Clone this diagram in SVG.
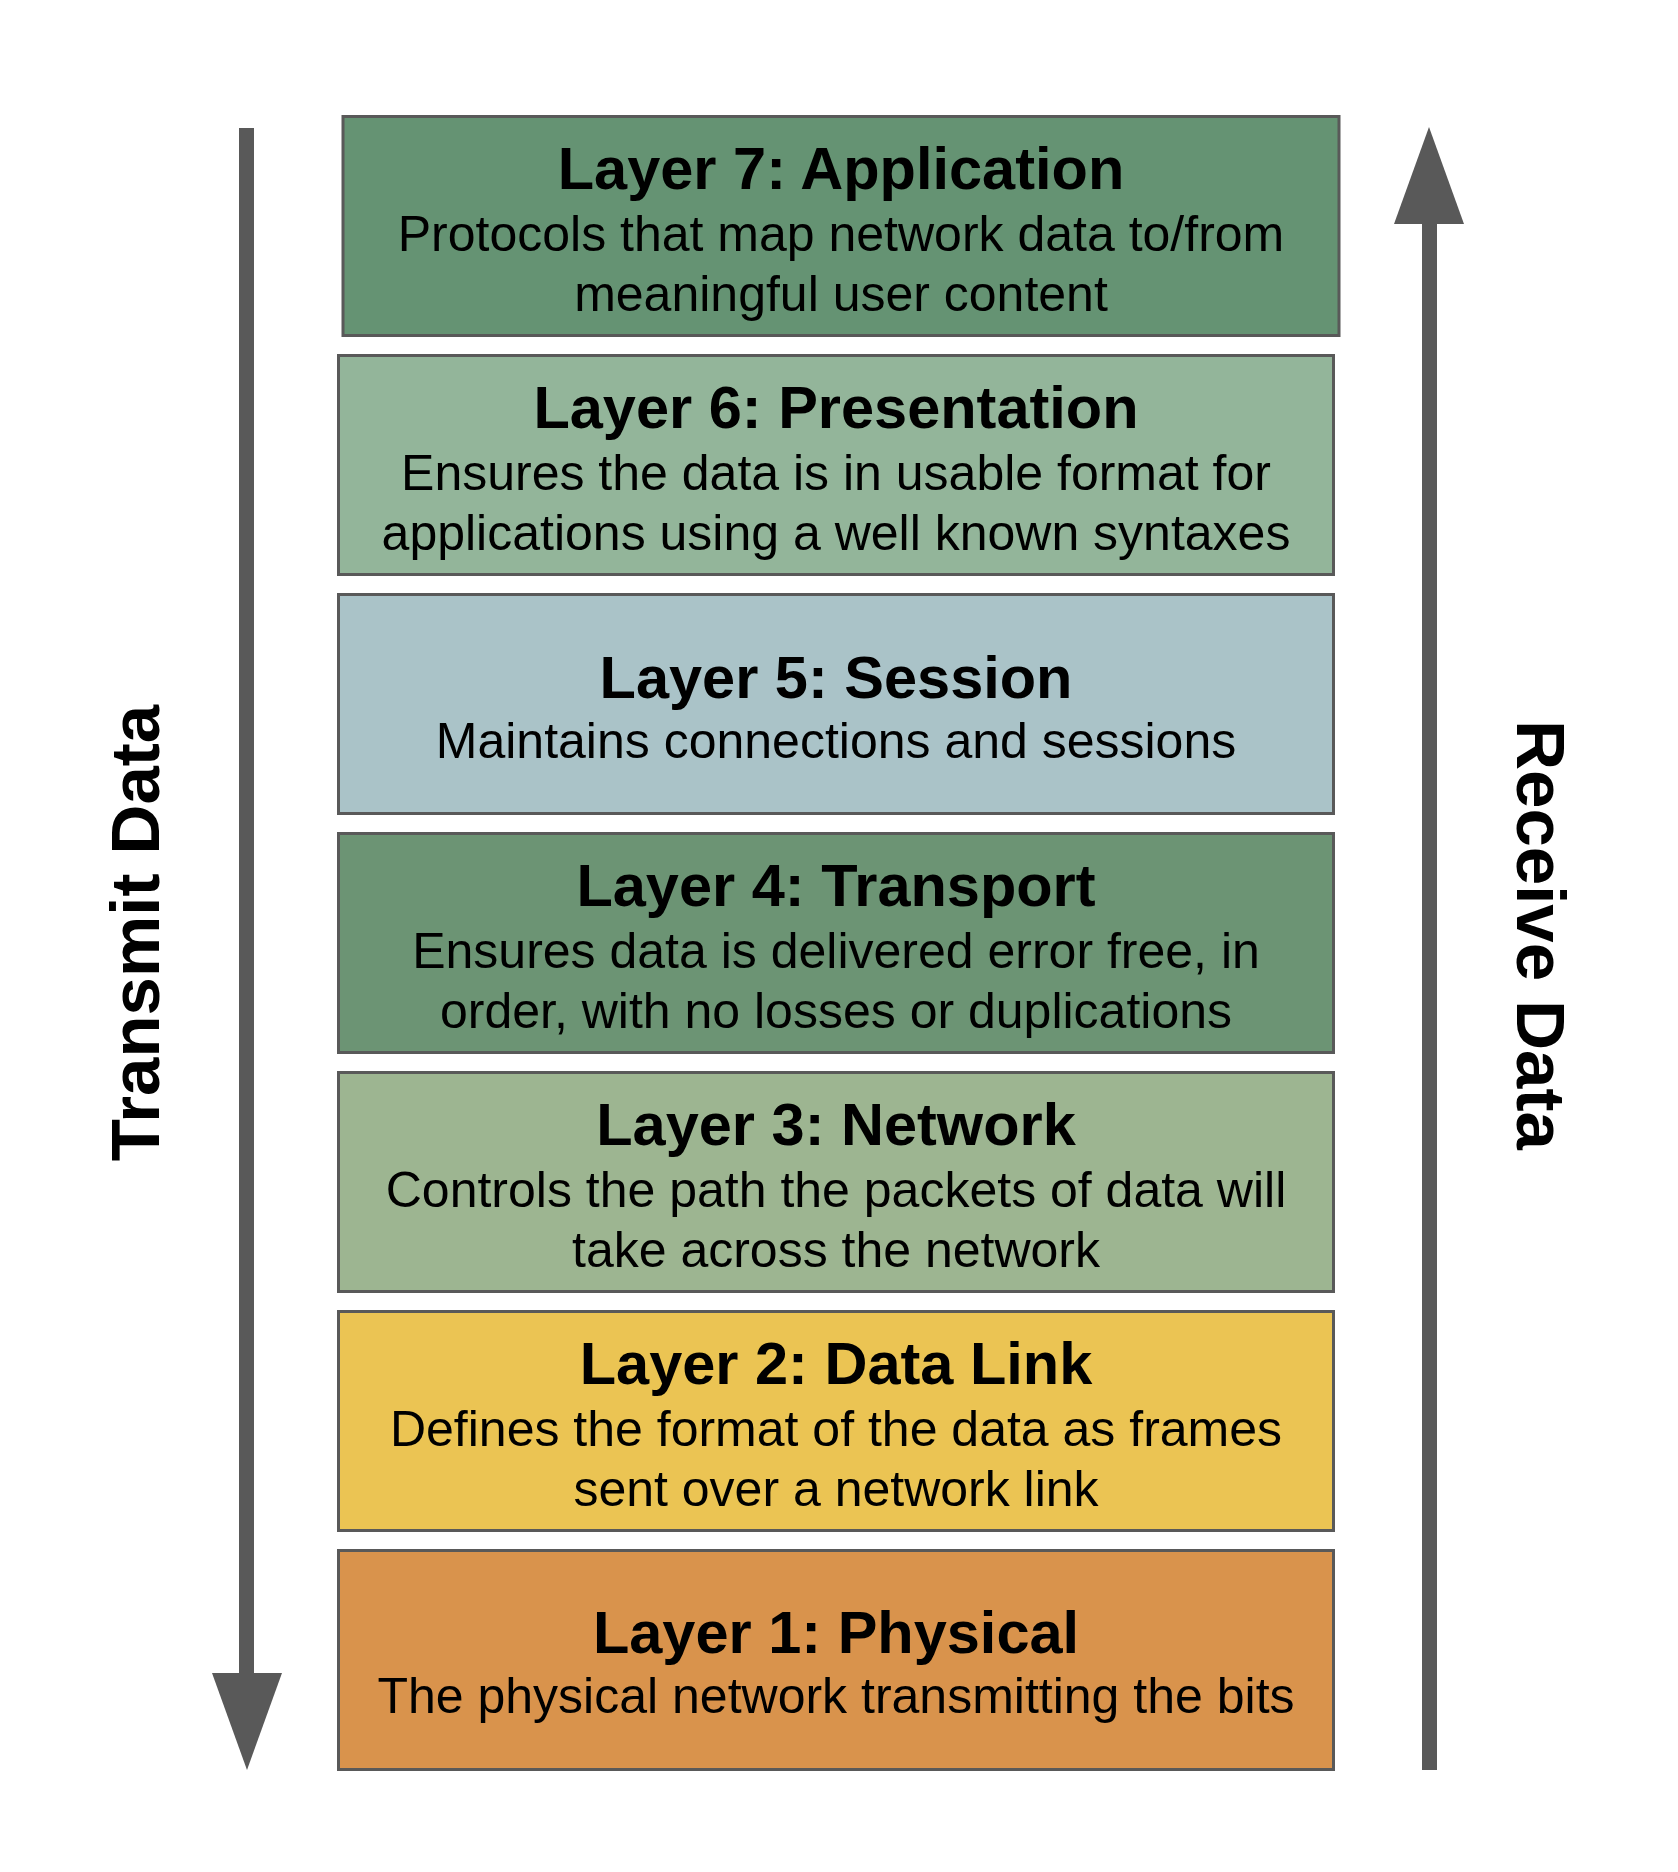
<svg xmlns="http://www.w3.org/2000/svg" width="1678" height="1872" viewBox="0 0 1678 1872">
<style>
.box{stroke:#595959;stroke-width:3}
.t{font-family:"Liberation Sans",Arial,sans-serif;font-weight:bold;font-size:59.5px;fill:#000;text-anchor:middle}
.d{font-family:"Liberation Sans",Arial,sans-serif;font-size:50px;fill:#000;text-anchor:middle}
.side{font-family:"Liberation Sans",Arial,sans-serif;font-weight:bold;font-size:69px;fill:#000;text-anchor:middle}
.arrow{fill:#595959}
</style>
<rect width="1678" height="1872" fill="#ffffff"/>
<g id="connectors">
  <g id="transmit-arrow">
    <rect class="arrow" x="239" y="128" width="15" height="1546"/>
    <polygon class="arrow" points="212,1673 282,1673 247,1770"/>
  </g>
  <g id="receive-arrow">
    <rect class="arrow" x="1422" y="223" width="15" height="1547"/>
    <polygon class="arrow" points="1429,127 1394,224 1464,224"/>
  </g>
</g>
<g id="label-transmit">
  <text class="side" transform="translate(159,933) rotate(-90)">Transmit Data</text>
</g>
<g id="label-receive">
  <text class="side" transform="translate(1517,935) rotate(90)">Receive Data</text>
</g>
<g id="layer7">
  <rect class="box" x="343" y="116.5" width="996" height="219" fill="#659373"/>
  <text class="t" x="841" y="189">Layer 7: Application</text>
  <text class="d" x="841" y="251">Protocols that map network data to/from</text>
  <text class="d" x="841" y="311">meaningful user content</text>
</g>
<g id="layer6">
  <rect class="box" x="338.5" y="355.5" width="995" height="219" fill="#93b59a"/>
  <text class="t" x="836" y="428">Layer 6: Presentation</text>
  <text class="d" x="836" y="490">Ensures the data is in usable format for</text>
  <text class="d" x="836" y="550">applications using a well known syntaxes</text>
</g>
<g id="layer5">
  <rect class="box" x="338.5" y="594.5" width="995" height="219" fill="#aac3c8"/>
  <text class="t" x="836" y="698">Layer 5: Session</text>
  <text class="d" x="836" y="758">Maintains connections and sessions</text>
</g>
<g id="layer4">
  <rect class="box" x="338.5" y="833.5" width="995" height="219" fill="#6c9474"/>
  <text class="t" x="836" y="906">Layer 4: Transport</text>
  <text class="d" x="836" y="968">Ensures data is delivered error free, in</text>
  <text class="d" x="836" y="1028">order, with no losses or duplications</text>
</g>
<g id="layer3">
  <rect class="box" x="338.5" y="1072.5" width="995" height="219" fill="#9db591"/>
  <text class="t" x="836" y="1145">Layer 3: Network</text>
  <text class="d" x="836" y="1207">Controls the path the packets of data will</text>
  <text class="d" x="836" y="1267">take across the network</text>
</g>
<g id="layer2">
  <rect class="box" x="338.5" y="1311.5" width="995" height="219" fill="#ebc453"/>
  <text class="t" x="836" y="1384">Layer 2: Data Link</text>
  <text class="d" x="836" y="1446">Defines the format of the data as frames</text>
  <text class="d" x="836" y="1506">sent over a network link</text>
</g>
<g id="layer1">
  <rect class="box" x="338.5" y="1550.5" width="995" height="219" fill="#d9934c"/>
  <text class="t" x="836" y="1653">Layer 1: Physical</text>
  <text class="d" x="836" y="1713">The physical network transmitting the bits</text>
</g>
</svg>
